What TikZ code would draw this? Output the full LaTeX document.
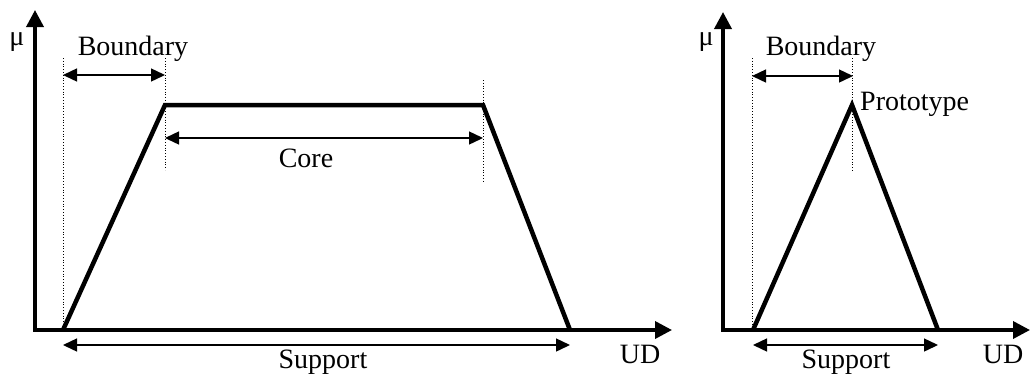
\documentclass[tikz,border=0pt]{standalone}
\usepackage{fontspec}
\setmainfont{Liberation Serif}
\usetikzlibrary{arrows.meta}
\begin{document}
\begin{tikzpicture}[x=1pt,y=-1pt,
  axis/.style={line width=3.6pt,-{Triangle[length=17pt,width=17pt]}},
  mf/.style={line width=4.5pt,line join=miter},
  dim/.style={line width=1.4pt,{Triangle[length=14pt,width=13pt]}-{Triangle[length=14pt,width=13pt]}},
  guide/.style={line width=0.8pt,dotted},
  lbl/.style={font=\fontsize{28}{30}\selectfont,inner sep=0pt,anchor=base}]
\useasboundingbox (0,0) rectangle (1030,376);
\fill[white] (0,0) rectangle (1030,376);

% ---- trapezoidal membership function ----
\coordinate (o1) at (35,330);
\coordinate (ytip1) at (35,10);
\coordinate (xtip1) at (672,330);
\coordinate (a1) at (63,330);
\coordinate (b1) at (165,105);
\coordinate (c1) at (483,105);
\coordinate (d1) at (570,330);

\draw[guide] (63,58) coordinate (ga) -- (a1);
\draw[guide] (165,58) coordinate (gb) -- (165,170) coordinate (gb2);
\draw[guide] (483,80) coordinate (gc) -- (483,183) coordinate (gc2);

\draw[axis] (33,330) coordinate (o1s) -- (xtip1);
\draw[axis] (35,331.8) coordinate (o1v) -- (ytip1);
\draw[mf] (a1) -- (b1) -- (c1) -- (d1);

\draw[dim] (63,75) coordinate (bl1) -- (165,75) coordinate (br1);
\draw[dim] (165,138) coordinate (cl1) -- (483,138) coordinate (cr1);
\draw[dim] (63,345) coordinate (sl1) -- (570,345) coordinate (sr1);

\node[lbl] (mu1) at (17,45) {μ};
\node[lbl] (bd1) at (133,55) {Boundary};
\node[lbl] (core) at (306,167) {Core};
\node[lbl] (sup1) at (323,368) {Support};
\node[lbl] (ud1) at (640,363) {UD};

% ---- triangular membership function ----
\coordinate (ytip2) at (723,12);
\coordinate (xtip2) at (1030,330);
\coordinate (a2) at (753,330);
\coordinate (p2) at (852,105);
\coordinate (d2) at (938,330);

\draw[guide] (752,58) coordinate (gd) -- (752,330) coordinate (gd2);
\draw[guide] (852,58) coordinate (ge) -- (852,172) coordinate (ge2);

\draw[axis] (721,330) coordinate (o2s) -- (xtip2);
\draw[axis] (723,331.8) coordinate (o2v) -- (ytip2);
\draw[mf] (a2) -- (p2) -- (d2);

\draw[dim] (752,76) coordinate (bl2) -- (853,76) coordinate (br2);
\draw[dim] (753,345) coordinate (sl2) -- (938,345) coordinate (sr2);

\node[lbl] (mu2) at (706,45) {μ};
\node[lbl] (bd2) at (821,55) {Boundary};
\node[lbl,anchor=base west] (proto) at (860,110) {Prototype};
\node[lbl] (sup2) at (846,368) {Support};
\node[lbl] (ud2) at (1003,363) {UD};
\end{tikzpicture}
\end{document}
